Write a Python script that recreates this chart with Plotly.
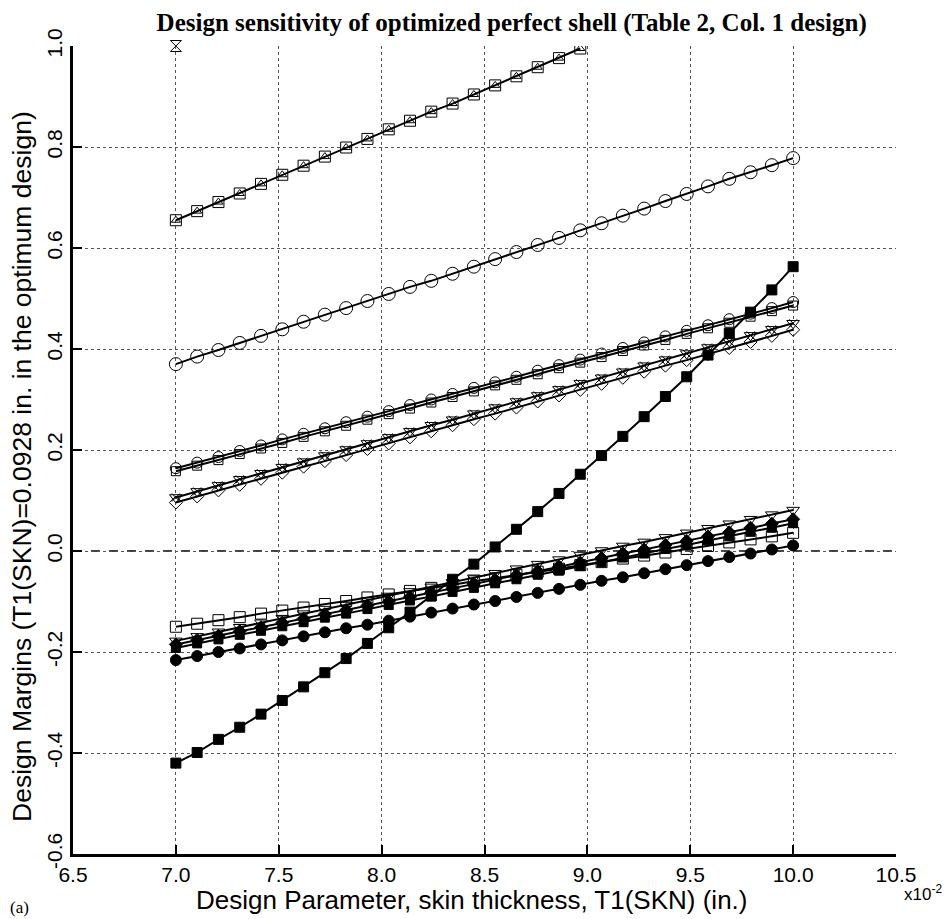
import plotly.graph_objects as go

# x in units of 1e-2 in.
x = [7.0, 7.1034, 7.2069, 7.3103, 7.4138, 7.5172, 7.6207, 7.7241, 7.8276, 7.9310,
     8.0345, 8.1379, 8.2414, 8.3448, 8.4483, 8.5517, 8.6552, 8.7586, 8.8621, 8.9655,
     9.0690, 9.1724, 9.2759, 9.3793, 9.4828, 9.5862, 9.6897, 9.7931, 9.8966, 10.0]

top_sq = [0.655, 0.673, 0.691, 0.708, 0.727, 0.745, 0.763, 0.781, 0.799, 0.816,
          0.835, 0.852, 0.870, 0.886, 0.904, 0.922, 0.940, 0.958, 0.976, 0.995]
top_tri = [0.655, 0.673, 0.691, 0.708, 0.727, 0.745, 0.763, 0.781, 0.799, 0.816,
           0.835, 0.852, 0.870, 0.886, 0.904, 0.922, 0.940, 0.958, 0.976, 0.995]
clip_pt = [1.0]

circle = [0.370, 0.385, 0.398, 0.412, 0.426, 0.439, 0.454, 0.468, 0.481, 0.495,
          0.509, 0.523, 0.535, 0.549, 0.563, 0.578, 0.592, 0.606, 0.620, 0.635,
          0.649, 0.664, 0.678, 0.693, 0.707, 0.722, 0.737, 0.750, 0.764, 0.778]

g3_circ = [0.164, 0.175, 0.186, 0.198, 0.209, 0.221, 0.232, 0.243, 0.255, 0.266,
           0.277, 0.289, 0.300, 0.311, 0.323, 0.334, 0.345, 0.357, 0.368, 0.379,
           0.391, 0.402, 0.413, 0.425, 0.436, 0.447, 0.459, 0.470, 0.481, 0.493]
g3_sq = [0.158, 0.169, 0.180, 0.192, 0.203, 0.214, 0.226, 0.237, 0.248, 0.260,
         0.271, 0.282, 0.294, 0.305, 0.316, 0.328, 0.339, 0.350, 0.362, 0.373,
         0.384, 0.396, 0.407, 0.418, 0.430, 0.441, 0.452, 0.464, 0.475, 0.486]

g4_tri = [0.106, 0.118, 0.130, 0.142, 0.154, 0.166, 0.177, 0.189, 0.201, 0.213,
          0.225, 0.237, 0.249, 0.260, 0.272, 0.284, 0.296, 0.308, 0.320, 0.332,
          0.343, 0.355, 0.367, 0.379, 0.391, 0.403, 0.415, 0.427, 0.439, 0.451]
g4_dia = [0.096, 0.108, 0.120, 0.131, 0.143, 0.155, 0.167, 0.178, 0.190, 0.202,
          0.213, 0.225, 0.237, 0.249, 0.261, 0.272, 0.284, 0.296, 0.308, 0.319,
          0.331, 0.343, 0.355, 0.367, 0.378, 0.390, 0.402, 0.414, 0.426, 0.438]

fsq = [-0.420, -0.399, -0.373, -0.349, -0.323, -0.296, -0.269, -0.241, -0.213, -0.183,
       -0.152, -0.121, -0.089, -0.056, -0.026, 0.008, 0.043, 0.078, 0.114, 0.152,
       0.189, 0.227, 0.266, 0.306, 0.345, 0.388, 0.431, 0.473, 0.517, 0.563]

L1_sq = [-0.150, -0.144, -0.137, -0.131, -0.124, -0.118, -0.112, -0.105, -0.099, -0.092,
         -0.086, -0.079, -0.073, -0.067, -0.060, -0.054, -0.047, -0.041, -0.035, -0.028,
         -0.022, -0.015, -0.009, -0.003, 0.004, 0.010, 0.017, 0.023, 0.029, 0.036]
L2_tri = [-0.178, -0.169, -0.160, -0.151, -0.142, -0.133, -0.124, -0.115, -0.107, -0.098,
          -0.089, -0.080, -0.071, -0.062, -0.053, -0.044, -0.035, -0.026, -0.017, -0.008,
          0.001, 0.010, 0.018, 0.027, 0.036, 0.045, 0.054, 0.063, 0.072, 0.081]
L3_dia = [-0.185, -0.176, -0.168, -0.159, -0.151, -0.142, -0.134, -0.125, -0.117, -0.108,
          -0.100, -0.091, -0.082, -0.074, -0.065, -0.057, -0.048, -0.040, -0.031, -0.023,
          -0.014, -0.005, 0.003, 0.012, 0.020, 0.029, 0.037, 0.046, 0.054, 0.063]
L4_sq = [-0.192, -0.183, -0.175, -0.166, -0.158, -0.149, -0.141, -0.132, -0.124, -0.115,
         -0.107, -0.098, -0.090, -0.081, -0.073, -0.064, -0.056, -0.047, -0.039, -0.030,
         -0.022, -0.013, -0.005, 0.004, 0.012, 0.021, 0.029, 0.038, 0.046, 0.055]
L5_circ = [-0.216, -0.208, -0.200, -0.193, -0.185, -0.177, -0.169, -0.161, -0.153, -0.146,
           -0.138, -0.130, -0.122, -0.114, -0.106, -0.099, -0.091, -0.083, -0.075, -0.067,
           -0.059, -0.052, -0.044, -0.036, -0.028, -0.020, -0.012, -0.005, 0.003, 0.011]

x_ticks = [6.5, 7.0, 7.5, 8.0, 8.5, 9.0, 9.5, 10.0, 10.5]
y_ticks = [-0.6, -0.4, -0.2, 0.0, 0.2, 0.4, 0.6, 0.8, 1.0]

series = [
    (top_sq, "square-open", 11, "lines+markers", True),
    (top_tri, "triangle-up-open", 8, "markers", True),
    (clip_pt, "hourglass-open", 11, "markers", False),
    (circle, "circle-open", 13, "lines+markers", True),
    (g3_circ, "circle-open", 11, "lines+markers", True),
    (g3_sq, "square-open", 9, "lines+markers", True),
    (g4_tri, "triangle-down-open", 11, "lines+markers", True),
    (g4_tri, "x-thin-open", 8, "markers", True),
    (g4_dia, "diamond-open", 10, "lines+markers", True),
    (fsq, "square", 10, "lines+markers", True),
    (L1_sq, "square-open", 11, "lines+markers", True),
    (L2_tri, "triangle-down-open", 11, "lines+markers", True),
    (L3_dia, "diamond", 10, "lines+markers", True),
    (L4_sq, "square", 9, "lines+markers", True),
    (L5_circ, "circle", 11, "lines+markers", True),
]

fig = go.Figure()
for ys, sym, sz, mode, clip in series:
    fig.add_trace(go.Scatter(
        x=x[:len(ys)], y=ys, mode=mode, cliponaxis=clip,
        line=dict(color="black", width=2),
        marker=dict(symbol=sym, size=sz, color="black",
                    line=dict(color="black", width=1)),
        showlegend=False, hoverinfo="skip"))

fig.add_shape(type="line", xref="paper", yref="y", x0=0, x1=1, y0=0, y1=0,
              line=dict(color="black", width=1.5, dash="dash"), layer="below")

axis_common = dict(
    showline=True, linecolor="black", linewidth=2.5, mirror=False,
    ticks="inside", ticklen=9, tickwidth=2, tickcolor="black",
    showgrid=True, gridcolor="#555555", gridwidth=1, griddash="dot",
    zeroline=False, tickfont=dict(family="Liberation Sans, Arial", size=21, color="black"),
)

fig.update_xaxes(range=[6.5, 10.5], tickvals=x_ticks,
                 ticktext=[f"{v:.1f}" for v in x_ticks], **axis_common)
fig.update_yaxes(range=[-0.6, 1.0], tickvals=y_ticks,
                 ticktext=[f"{v:.1f}" for v in y_ticks], tickangle=-90, **axis_common)

fig.update_layout(
    width=942, height=911,
    paper_bgcolor="white", plot_bgcolor="white",
    margin=dict(l=65, r=54, t=38, b=65, autoexpand=False),
    title=dict(text="<b>Design sensitivity of optimized perfect shell (Table 2, Col. 1 design)</b>",
               xref="paper", x=0.533, xanchor="center", y=0.994, yanchor="top",
               font=dict(family="Liberation Serif, Times New Roman", size=25, color="black")),
    annotations=[
        dict(text="Design Parameter, skin thickness, T1(SKN) (in.)",
             xref="paper", yref="paper", x=0.484, y=0, xanchor="center", yanchor="middle",
             yshift=-46, showarrow=False,
             font=dict(family="Liberation Sans, Arial", size=26, color="black")),
        dict(text="Design Margins (T1(SKN)=0.0928 in. in the optimum design)",
             xref="paper", yref="paper", x=0, y=0.479, xanchor="center", yanchor="middle",
             xshift=-51, textangle=-90, showarrow=False,
             font=dict(family="Liberation Sans, Arial", size=26.5, color="black")),
        dict(text="x10<sup>-2</sup>", xref="paper", yref="paper", x=1.0, y=0,
             xanchor="left", yanchor="top", xshift=6, yshift=-26, showarrow=False,
             font=dict(family="Liberation Sans, Arial", size=17, color="black")),
        dict(text="(a)", xref="paper", yref="paper", x=0, y=0,
             xanchor="left", yanchor="top", xshift=-65, yshift=-42, showarrow=False,
             font=dict(family="Liberation Serif, Times New Roman", size=17, color="black")),
    ],
)

fig.write_html("out.html")
